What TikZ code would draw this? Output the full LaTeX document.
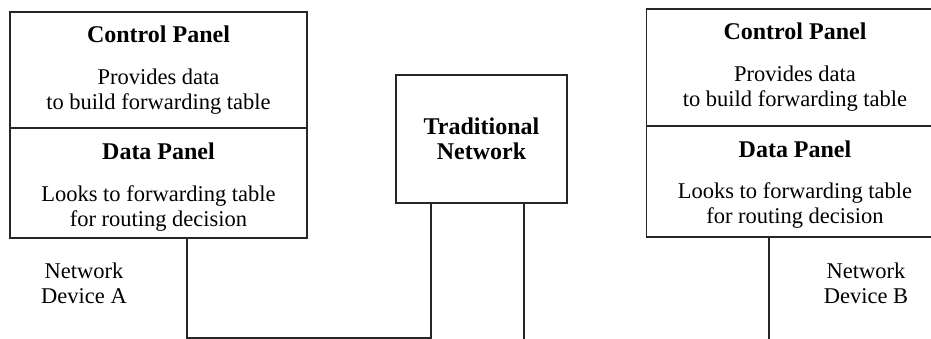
\documentclass[tikz,border=0pt]{standalone}
\usepackage{fontspec}
\setmainfont{Liberation Serif}
\usetikzlibrary{positioning}
\tikzset{font=\rmfamily\fontsize{22.5}{25}\selectfont}
\tikzstyle{panel}=[rectangle,draw=black!85,line width=1.5pt,align=center,minimum width=297pt,inner sep=0pt]
\tikzstyle{wire}=[draw=black!85,line width=1.5pt]
\newcommand{\ptitle}[1]{{\fontsize{24}{28}\selectfont\bfseries #1}}

\begin{document}
\begin{tikzpicture}[x=1pt,y=-1pt]
\useasboundingbox (0,0) rectangle (931,339);
\clip (0,0) rectangle (931,339);
\node[panel,minimum height=116pt] (CA) at (158.5,70) {\ptitle{Control Panel}\\[17pt]Provides data\\to build forwarding table};
\node[panel,minimum height=110pt] (DA) at (158.5,183) {\rule{0pt}{25pt}\ptitle{Data Panel}\\[17pt]Looks to forwarding table\\for routing decision};
\node[panel,minimum height=117pt] (CB) at (795,67.5) {\ptitle{Control Panel}\\[17pt]Provides data\\to build forwarding table};
\node[panel,minimum height=111pt] (DB) at (795,181.5) {\rule{0pt}{23pt}\ptitle{Data Panel}\\[16pt]Looks to forwarding table\\for routing decision};
\node[panel,minimum width=171pt,minimum height=128pt] (TN) at (481.5,139) {\ptitle{Traditional}\\\ptitle{Network}};
\node[align=center] (devA) at (84,283) {Network\\Device A};
\node[align=center] (devB) at (866,283) {Network\\Device B};
\coordinate (lA) at (187,338);
\coordinate (lT) at (431,338);
\coordinate (rT) at (524,339);
\coordinate (rB) at (769,339);
\draw[wire] (lA |- DA.south) -- (lA) -- (lT) -- (lT |- TN.south);
\path[wire]
(rT |- TN.south) edge (rT)
(rB |- DB.south) edge (rB);
\end{tikzpicture}
\end{document}
